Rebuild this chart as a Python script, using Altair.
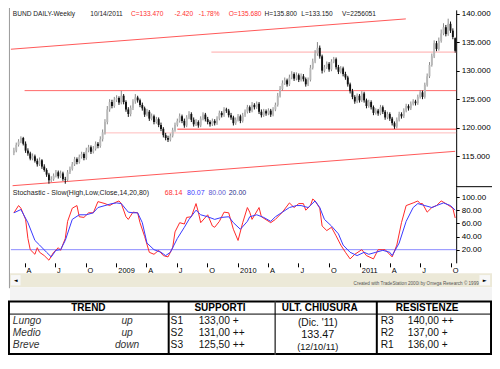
import altair as alt
import pandas as pd

# ---------------------------------------------------------------- values
FIRST_WEEK = "2008-02-29"          # first weekly bar (Friday); one bar per week

OPEN = [
    115.6, 116.0, 117.0, 117.6, 118.2, 117.2, 116.0, 115.5, 114.6, 115.0,
    114.2, 113.6, 114.3, 113.2, 112.6, 111.8, 110.8, 111.0, 111.6, 112.2,
    111.5, 112.0, 111.0, 110.9, 112.2, 112.8, 113.6, 114.5, 114.0, 114.9,
    115.4, 114.7, 116.0, 116.6, 115.8, 116.3, 117.2, 116.8, 118.0, 119.2,
    121.0, 123.2, 124.5, 123.8, 124.9, 125.2, 124.4, 125.6, 124.5, 123.2,
    122.4, 123.5, 124.6, 125.3, 124.8, 124.0, 123.4, 122.3, 122.8, 121.6,
    122.0, 121.0, 121.5, 120.5, 119.8, 118.7, 118.2, 117.9, 118.6, 119.6,
    120.5, 121.2, 122.0, 121.2, 120.4, 121.8, 122.4, 121.4, 120.6, 121.0,
    120.4, 121.6, 122.3, 121.5, 121.0, 120.6, 121.2, 120.8, 121.6, 122.6,
    122.2, 123.2, 123.0, 122.2, 121.8, 120.8, 121.4, 122.0, 121.2, 122.2,
    122.8, 123.6, 123.0, 124.0, 123.6, 124.2, 122.8, 122.2, 122.9, 122.5,
    123.0, 122.3, 123.2, 124.0, 125.6, 126.8, 127.8, 128.3, 127.6, 128.8,
    129.4, 128.6, 129.2, 128.4, 129.0, 128.5, 127.6, 128.4, 130.5, 131.6,
    133.0, 134.0, 132.5, 130.0, 130.6, 131.2, 130.2, 131.6, 132.0, 130.6,
    129.8, 130.4, 129.4, 128.8, 127.6, 126.4, 125.4, 124.6, 125.6, 124.8,
    126.0, 124.8, 123.8, 124.5, 123.6, 122.6, 123.0, 122.5, 123.6, 122.8,
    121.8, 122.4, 121.6, 120.8, 120.2, 121.4, 122.4, 122.0, 123.0, 123.8,
    123.4, 124.2, 124.6, 124.3, 125.4, 126.2, 125.4, 127.5, 129.0, 131.0,
    132.5, 134.8, 133.8, 135.2, 136.5, 137.6, 136.4, 138.2, 137.0, 135.68,
]
HIGH = [
    116.5, 117.4, 118.0, 118.5, 118.4, 117.6, 116.4, 115.8, 115.5, 115.3,
    114.6, 114.8, 114.5, 113.6, 112.9, 112.1, 111.5, 112.0, 112.6, 112.5,
    112.5, 112.3, 111.4, 112.6, 113.2, 114.0, 114.9, 114.8, 115.3, 115.8,
    115.7, 116.5, 117.0, 116.9, 116.8, 117.6, 117.5, 118.5, 119.7, 121.5,
    123.8, 125.0, 124.9, 125.4, 125.7, 125.5, 126.5, 125.9, 124.8, 123.6,
    123.9, 125.0, 125.9, 125.6, 125.1, 124.4, 123.7, 123.3, 123.1, 122.5,
    122.3, 121.9, 121.8, 120.9, 120.1, 119.1, 118.6, 119.0, 120.0, 120.9,
    121.6, 122.5, 122.3, 121.6, 122.2, 122.9, 122.7, 121.8, 121.5, 121.3,
    122.0, 122.7, 122.6, 121.9, 121.3, 121.6, 121.5, 122.0, 123.0, 122.9,
    123.6, 123.5, 123.3, 122.6, 122.1, 121.8, 122.4, 122.3, 122.6, 123.2,
    124.0, 123.9, 124.5, 124.3, 124.6, 124.5, 123.2, 123.3, 123.2, 123.4,
    123.3, 123.6, 124.4, 126.1, 127.3, 128.3, 128.8, 128.6, 129.3, 129.9,
    129.7, 129.7, 129.5, 129.5, 129.4, 128.8, 128.8, 131.0, 132.1, 133.6,
    135.0, 134.4, 132.8, 131.0, 131.6, 131.5, 132.0, 132.4, 132.3, 131.0,
    130.8, 130.7, 129.8, 129.1, 127.9, 126.8, 125.7, 126.0, 125.9, 126.4,
    126.3, 125.1, 124.9, 124.8, 123.9, 123.4, 123.3, 124.0, 123.9, 123.1,
    122.8, 122.7, 121.9, 121.1, 121.8, 122.8, 122.7, 123.4, 124.2, 124.1,
    124.6, 125.0, 124.9, 125.8, 126.6, 126.5, 127.9, 129.5, 131.5, 133.0,
    135.3, 135.2, 135.8, 137.2, 138.3, 138.0, 139.1, 138.6, 137.4, 135.8,
]
LOW = [
    115.2, 115.7, 116.7, 117.3, 116.9, 115.6, 115.1, 114.3, 114.3, 113.9,
    113.2, 113.3, 112.8, 112.3, 111.4, 110.2, 110.5, 110.7, 111.3, 111.1,
    111.2, 110.7, 110.2, 110.6, 111.9, 112.5, 113.3, 113.6, 113.7, 114.6,
    114.3, 114.4, 115.7, 115.4, 115.5, 116.0, 116.4, 116.5, 117.6, 118.8,
    120.6, 122.8, 123.4, 123.5, 124.5, 124.0, 124.1, 124.1, 122.8, 121.9,
    122.0, 123.1, 124.2, 124.4, 123.6, 123.0, 121.9, 122.0, 121.2, 121.3,
    120.6, 120.7, 120.1, 119.4, 118.3, 117.8, 117.5, 117.6, 118.3, 119.3,
    120.2, 120.9, 120.8, 120.0, 120.1, 121.5, 121.0, 120.2, 120.3, 120.0,
    120.1, 121.3, 121.1, 120.6, 120.2, 120.3, 120.4, 120.5, 121.3, 121.8,
    121.9, 122.6, 121.8, 121.4, 120.4, 120.5, 121.1, 120.8, 120.9, 121.9,
    122.5, 122.6, 122.7, 123.2, 123.3, 122.4, 121.8, 121.9, 122.1, 122.2,
    121.9, 122.0, 122.9, 123.7, 125.3, 126.5, 127.5, 127.2, 127.3, 128.5,
    128.2, 128.3, 128.0, 128.1, 128.1, 127.2, 127.3, 128.1, 130.2, 131.3,
    132.6, 132.1, 129.5, 129.7, 130.3, 129.8, 129.9, 131.3, 130.2, 129.4,
    129.5, 129.0, 128.4, 127.2, 126.0, 125.0, 124.2, 124.3, 124.4, 124.5,
    124.4, 123.4, 123.5, 123.2, 122.2, 122.3, 122.1, 122.2, 122.4, 121.4,
    121.5, 121.2, 120.4, 119.8, 119.9, 121.1, 121.6, 121.7, 122.7, 123.0,
    123.1, 123.9, 123.9, 124.0, 125.1, 125.0, 125.1, 127.2, 128.7, 130.7,
    132.2, 133.4, 133.5, 134.9, 136.2, 136.0, 136.1, 136.6, 135.5, 133.15,
]
CLOSE = [
    116.0, 117.0, 117.6, 118.2, 117.2, 116.0, 115.5, 114.6, 115.0, 114.2,
    113.6, 114.3, 113.2, 112.6, 111.8, 110.8, 111.0, 111.6, 112.2, 111.5,
    112.0, 111.0, 110.9, 112.2, 112.8, 113.6, 114.5, 114.0, 114.9, 115.4,
    114.7, 116.0, 116.6, 115.8, 116.3, 117.2, 116.8, 118.0, 119.2, 121.0,
    123.2, 124.5, 123.8, 124.9, 125.2, 124.4, 125.6, 124.5, 123.2, 122.4,
    123.5, 124.6, 125.3, 124.8, 124.0, 123.4, 122.3, 122.8, 121.6, 122.0,
    121.0, 121.5, 120.5, 119.8, 118.7, 118.2, 117.9, 118.6, 119.6, 120.5,
    121.2, 122.0, 121.2, 120.4, 121.8, 122.4, 121.4, 120.6, 121.0, 120.4,
    121.6, 122.3, 121.5, 121.0, 120.6, 121.2, 120.8, 121.6, 122.6, 122.2,
    123.2, 123.0, 122.2, 121.8, 120.8, 121.4, 122.0, 121.2, 122.2, 122.8,
    123.6, 123.0, 124.0, 123.6, 124.2, 122.8, 122.2, 122.9, 122.5, 123.0,
    122.3, 123.2, 124.0, 125.6, 126.8, 127.8, 128.3, 127.6, 128.8, 129.4,
    128.6, 129.2, 128.4, 129.0, 128.5, 127.6, 128.4, 130.5, 131.6, 133.0,
    134.0, 132.5, 130.0, 130.6, 131.2, 130.2, 131.6, 132.0, 130.6, 129.8,
    130.4, 129.4, 128.8, 127.6, 126.4, 125.4, 124.6, 125.6, 124.8, 126.0,
    124.8, 123.8, 124.5, 123.6, 122.6, 123.0, 122.5, 123.6, 122.8, 121.8,
    122.4, 121.6, 120.8, 120.2, 121.4, 122.4, 122.0, 123.0, 123.8, 123.4,
    124.2, 124.6, 124.3, 125.4, 126.2, 125.4, 127.5, 129.0, 131.0, 132.5,
    134.8, 133.8, 135.2, 136.5, 137.6, 136.4, 138.2, 137.0, 135.9, 133.47,
]

# stochastic %K (red) and %D (blue): week index of the bar and value
K_WEEK = [0, 2, 3, 5, 6, 7, 9, 10, 11, 13, 15, 17, 19, 20, 22, 23, 25, 27, 28, 30,
          32, 34, 36, 39, 41, 43, 45, 46, 48, 49, 51, 53, 54, 56, 58, 60, 62, 64, 66, 68,
          69, 71, 73, 74, 76, 78, 79, 80, 83, 85, 86, 88, 90, 92, 94, 96, 98, 100, 101, 102,
          105, 106, 110, 112, 115, 118, 120, 122, 124, 125, 127, 128, 129, 131, 132, 134, 136, 138, 140, 142,
          144, 146, 149, 151, 154, 156, 158, 159, 162, 164, 166, 168, 171, 173, 174, 175, 177, 179, 181, 183,
          185, 188, 189]
K_VAL = [76, 87, 83, 66, 37, 20, 13, 23, 16, 11, 4, 16, 23, 19, 37, 63, 83, 87, 70, 69,
         76, 76, 93, 90, 87, 91, 94, 90, 70, 66, 77, 76, 61, 40, 16, 13, 19, 11, 9, 23,
         47, 61, 59, 69, 70, 90, 77, 61, 73, 56, 54, 63, 77, 76, 51, 34, 61, 84, 77, 66,
         84, 70, 61, 66, 77, 91, 84, 90, 90, 80, 87, 97, 94, 83, 56, 49, 54, 41, 27, 16,
         6, 13, 20, 11, 6, 20, 20, 20, 9, 27, 61, 87, 91, 94, 90, 90, 77, 84, 87, 94,
         90, 83, 68.14]
D_WEEK = [0, 3, 6, 9, 11, 14, 16, 18, 20, 22, 25, 28, 31, 34, 36, 39, 42, 44, 46, 49,
          51, 53, 55, 57, 60, 63, 65, 67, 70, 73, 75, 78, 80, 83, 86, 89, 92, 94, 97, 100,
          101, 104, 107, 110, 112, 115, 118, 121, 123, 126, 129, 131, 133, 136, 139, 141, 144, 147, 150, 152,
          155, 158, 161, 162, 165, 168, 171, 173, 176, 179, 181, 184, 187, 189]
D_VAL = [76, 81, 61, 34, 27, 16, 9, 19, 20, 34, 66, 73, 73, 76, 84, 87, 90, 91, 90, 77,
         76, 76, 61, 30, 20, 16, 11, 16, 37, 54, 66, 80, 73, 70, 66, 69, 70, 61, 51, 63,
         70, 73, 69, 63, 70, 77, 84, 87, 87, 84, 94, 84, 66, 56, 44, 27, 16, 11, 16, 13,
         16, 19, 16, 11, 30, 63, 84, 90, 87, 84, 87, 91, 87, 80.07]
STOCH_LEVEL = 20

# support / resistance levels drawn on the price panel
LEVEL_PRICE = [126.5, 133.25, 119.75, 119.1]
LEVEL_FROM = ["2008-04-01", "2009-10-13", "2009-07-03", "2008-11-27"]
LEVEL_TO = "2011-10-17"

# trend channel lines
TREND_FROM = ["2008-02-20", "2008-02-25"]
TREND_FROM_PRICE = [133.75, 109.85]
TREND_TO = ["2011-05-19", "2011-10-14"]
TREND_TO_PRICE = [139.06, 115.87]

PRICE_TICKS = [115, 120, 125, 130, 135, 140]
STOCH_TICKS = [20, 40, 60, 80, 100]
QUARTER_TICKS = [(2008, 4), (2008, 7), (2008, 10), (2009, 1), (2009, 4), (2009, 7), (2009, 10),
                 (2010, 1), (2010, 4), (2010, 7), (2010, 10), (2011, 1), (2011, 4), (2011, 7), (2011, 10)]
X_DOMAIN = [(2008, 2, 20), (2011, 10, 17)]
P_DOMAIN = [109.68, 140.64]
S_DOMAIN = [0, 115.7]

HEADER_TEXT = ["BUND DAILY-Weekly", "10/14/2011", "C=133.470", "-2.420", "-1.78%",
               "O=135.680", "H=135.800", "L=133.150", "V=2256051"]
STOCH_TEXT = ["Stochastic - Slow(High,Low,Close,14,20,80)", "68.14", "80.07", "80.00", "20.00"]
CREDIT = "Created with TradeStation 2000i by Omega Research \u00a9 1999"

TABLE_HEADERS = ["TREND", "SUPPORTI", "ULT. CHIUSURA", "RESISTENZE"]
TREND_NAMES = ["Lungo", "Medio", "Breve"]
TREND_DIRS = ["up", "up", "down"]
SUPPORT_NAMES = ["S1", "S2", "S3"]
SUPPORT_VALUES = ["133,00 +", "131,00 ++", "125,50 ++"]
LAST_CLOSE = ["(Dic. '11)", "133.47", "(12/10/11)"]
RESIST_NAMES = ["R3", "R2", "R1"]
RESIST_VALUES = ["140,00 ++", "137,00 +", "136,00 +"]

# ---------------------------------------------------------------- layout & style
W, H = 484, 347                      # whole drawing
SX, SY = W / 500.0, H / 369.0        # reference pixel -> drawing pixel


def px(v):
    return v * SX


def py(v):
    return v * SY


SANS = "Liberation Sans, Arial, sans-serif"
RED_TXT = "#ff3030"
BLACK_TXT = "#1a1a1a"

HEADER_X = [5, 85, 127, 172, 197, 228, 265, 303, 345]
HEADER_COL = [BLACK_TXT, BLACK_TXT, RED_TXT, RED_TXT, RED_TXT, RED_TXT, BLACK_TXT, BLACK_TXT, BLACK_TXT]
HEADER_Y = 6.5
STOCH_X = [5, 162, 185, 207, 228]
STOCH_COL = [BLACK_TXT, RED_TXT, "#3c3cff", "#5a5ad0", "#2c2c8c"]
STOCH_Y = 197

ROW_Y = [332.5, 345.5, 358]
HEAD_Y = 319


def dt(y, m, d=1):
    return alt.DateTime(year=y, month=m, date=d, utc=True)


T_SCALE = alt.Scale(type="utc", domain=[dt(*X_DOMAIN[0]), dt(*X_DOMAIN[1])],
                    range=[px(3), px(463)], nice=False)
P_SCALE = alt.Scale(domain=P_DOMAIN, range=[py(190), py(2)], nice=False, zero=False)
S_SCALE = alt.Scale(domain=S_DOMAIN, range=[py(271), py(190)], nice=False, zero=False)
LX = alt.Scale(domain=[0, 500], range=[0, W], nice=False, zero=False)
LY = alt.Scale(domain=[0, 369], range=[0, H], nice=False, zero=False)

x_axis = alt.Axis(
    orient="bottom", offset=py(271) - H, values=[dt(y, m) for y, m in QUARTER_TICKS],
    labelExpr="utcmonth(datum.value) == 0 ? utcFormat(datum.value, '%Y') : "
              "substring(utcFormat(datum.value, '%b'), 0, 1)",
    tickSize=4, tickColor="#000", domain=False, grid=False, labelAlign="left",
    labelBaseline="top", labelOffset=1.5, labelPadding=0, labelFlush=False,
    labelFont=SANS, labelFontSize=7.4, labelColor="#000", labelOverlap=False, title=None)
p_axis = alt.Axis(
    orient="right", offset=px(463) - W, values=PRICE_TICKS, format=".3f", tickSize=3,
    domainColor="#000", tickColor="#000", grid=False, labelFont=SANS, labelFontSize=8,
    labelColor="#000", labelPadding=2, labelOverlap=False, title=None)
s_axis = alt.Axis(
    orient="right", offset=px(463) - W, values=STOCH_TICKS, format=".2f", tickSize=3,
    domainColor="#000", tickColor="#000", grid=False, labelFont=SANS, labelFontSize=8,
    labelColor="#000", labelPadding=2, labelOverlap=False, title=None)

# ---------------------------------------------------------------- tables for the marks
dates = pd.date_range(FIRST_WEEK, periods=len(CLOSE), freq="7D").strftime("%Y-%m-%d")
candles = pd.DataFrame({"date": dates, "open": OPEN, "high": HIGH, "low": LOW, "close": CLOSE})
candles["dir"] = ["up" if c >= o else "down" for o, c in zip(OPEN, CLOSE)]

kdf = pd.DataFrame({"date": [dates[i] for i in K_WEEK], "v": K_VAL})
ddf = pd.DataFrame({"date": [dates[i] for i in D_WEEK], "v": D_VAL})
lvl20 = pd.DataFrame({"a": ["2008-02-20"], "b": [LEVEL_TO], "v": [STOCH_LEVEL]})

levels = pd.DataFrame({"a": LEVEL_FROM, "b": [LEVEL_TO] * len(LEVEL_PRICE), "p": LEVEL_PRICE,
                       "c": ["#ff6a6a", "#ffaaaa", "#ff3a3a", "#ffbcbc"]})
trends = pd.DataFrame({
    "line": [0, 0, 1, 1],
    "date": [TREND_FROM[0], TREND_TO[0], TREND_FROM[1], TREND_TO[1]],
    "p": [TREND_FROM_PRICE[0], TREND_TO_PRICE[0], TREND_FROM_PRICE[1], TREND_TO_PRICE[1]],
})


def TX(field, axis=None):
    return alt.X(field, type="temporal", scale=T_SCALE, axis=axis)


def LXe(field):
    return alt.X(field, type="quantitative", scale=LX, axis=None)


def LYe(field):
    return alt.Y(field, type="quantitative", scale=LY, axis=None)


layers = []

# scroll bar and band under the chart
rects = pd.DataFrame({
    "x": [2, 2, 3, 487], "x2": [500, 500, 13, 498],
    "y": [282, 297, 284, 284], "y2": [297, 311, 295, 295],
    "c": ["#ece9d8", "#f3f3f3", "#f7f7f7", "#f7f7f7"],
})
layers.append(alt.Chart(rects).mark_rect().encode(
    x=LXe("x"), x2="x2", y=LYe("y"), y2="y2", color=alt.Color("c:N", scale=None)))

# price panel lines
layers.append(alt.Chart(trends).mark_line(color="#ff5a5a", strokeWidth=1).encode(
    x=TX("date"), y=alt.Y("p:Q", scale=P_SCALE, axis=None), detail="line:N"))
layers.append(alt.Chart(levels).mark_rule(strokeWidth=1).encode(
    x=TX("a"), x2="b", y=alt.Y("p:Q", scale=P_SCALE, axis=None), color=alt.Color("c:N", scale=None)))

# candles
layers.append(alt.Chart(candles).mark_rule(strokeWidth=1).encode(
    x=TX("date", x_axis),
    y=alt.Y("low:Q", scale=P_SCALE, axis=p_axis), y2="high:Q",
    color=alt.Color("dir:N", scale=alt.Scale(domain=["up", "down"], range=["#8a8a8a", "#111111"]),
                    legend=None)))
layers.append(alt.Chart(candles).mark_rule(strokeWidth=1.9).encode(
    x=TX("date"),
    y=alt.Y("open:Q", scale=P_SCALE, axis=None), y2="close:Q",
    color=alt.Color("dir:N", scale=alt.Scale(domain=["up", "down"], range=["#b8b8b8", "#111111"]),
                    legend=None)))

# stochastic panel
layers.append(alt.Chart(lvl20).mark_rule(color="#8a8aff", strokeWidth=1).encode(
    x=TX("a"), x2="b", y=alt.Y("v:Q", scale=S_SCALE, axis=None)))
layers.append(alt.Chart(kdf).mark_line(color="#ff2a2a", strokeWidth=1).encode(
    x=TX("date"), y=alt.Y("v:Q", scale=S_SCALE, axis=s_axis)))
layers.append(alt.Chart(ddf).mark_line(color="#3a3aff", strokeWidth=1).encode(
    x=TX("date"), y=alt.Y("v:Q", scale=S_SCALE, axis=None)))

# layout rules (frame, separators, table grid)
rules = pd.DataFrame({
    "x":  [1.5, 463, 0, 0, 1, 499, 166, 381, 276, 0],
    "x2": [1.5, 500, 500, 500, 1, 499, 166, 381, 276, 500],
    "y":  [0, 190, 312, 368, 312, 312, 312, 312, 312, 325.5],
    "y2": [298, 190, 312, 368, 369, 369, 369, 369, 369, 325.5],
    "c":  ["#9a9a9a", "#000", "#000", "#000", "#000", "#000", "#000", "#000", "#444", "#000"],
    "w":  [1, 1, 2, 2, 2, 2, 2, 2, 1.5, 1],
})
layers.append(alt.Chart(rules).mark_rule().encode(
    x=LXe("x"), x2="x2", y=LYe("y"), y2="y2",
    color=alt.Color("c:N", scale=None), strokeWidth=alt.StrokeWidth("w:Q", scale=None)))

# texts
header = pd.DataFrame({"t": HEADER_TEXT, "x": HEADER_X, "y": [HEADER_Y] * len(HEADER_TEXT), "c": HEADER_COL})
stoch_t = pd.DataFrame({"t": STOCH_TEXT, "x": STOCH_X, "y": [STOCH_Y] * len(STOCH_TEXT), "c": STOCH_COL})
for df, fs in ((header, 6.6), (stoch_t, 7.0)):
    layers.append(alt.Chart(df).mark_text(align="left", baseline="middle", font=SANS, fontSize=fs).encode(
        x=LXe("x"), y=LYe("y"), text="t:N", color=alt.Color("c:N", scale=None)))

small = pd.DataFrame({"t": [CREDIT], "x": [357], "y": [294]})
layers.append(alt.Chart(small).mark_text(align="left", baseline="middle", font=SANS, fontSize=4.6,
                                         color="#555").encode(x=LXe("x"), y=LYe("y"), text="t:N"))
arrows = pd.DataFrame({"t": ["\u25c4", "\u25ba"], "x": [8, 492.5], "y": [289.5, 289.5]})
layers.append(alt.Chart(arrows).mark_text(align="center", baseline="middle", font="DejaVu Sans",
                                          fontSize=5, color="#000").encode(x=LXe("x"), y=LYe("y"), text="t:N"))

heads = pd.DataFrame({"t": TABLE_HEADERS, "x": [83, 219, 322, 433], "y": [HEAD_Y] * 4})
layers.append(alt.Chart(heads).mark_text(align="center", baseline="middle", font=SANS, fontSize=10,
                                         fontWeight="bold", color="#000").encode(
    x=LXe("x"), y=LYe("y"), text="t:N"))

trend_l = pd.DataFrame({"t": TREND_NAMES, "x": [5] * 3, "y": ROW_Y})
layers.append(alt.Chart(trend_l).mark_text(align="left", baseline="middle", font=SANS, fontSize=10.2,
                                           fontStyle="italic", color="#333").encode(
    x=LXe("x"), y=LYe("y"), text="t:N"))
trend_r = pd.DataFrame({"t": TREND_DIRS, "x": [123] * 3, "y": ROW_Y})
layers.append(alt.Chart(trend_r).mark_text(align="center", baseline="middle", font=SANS, fontSize=10.2,
                                           fontStyle="italic", color="#333").encode(
    x=LXe("x"), y=LYe("y"), text="t:N"))

plain = pd.DataFrame({
    "t": SUPPORT_NAMES + SUPPORT_VALUES + RESIST_NAMES + RESIST_VALUES,
    "x": [168] * 3 + [197] * 3 + [385] * 3 + [413] * 3,
    "y": ROW_Y * 4,
})
layers.append(alt.Chart(plain).mark_text(align="left", baseline="middle", font=SANS, fontSize=10.2,
                                         color="#111").encode(x=LXe("x"), y=LYe("y"), text="t:N"))

close_t = pd.DataFrame({"t": LAST_CLOSE, "x": [320] * 3, "y": [335, 347.5, 361], "s": [10.2, 10.8, 9.2]})
layers.append(alt.Chart(close_t).mark_text(align="center", baseline="middle", font=SANS,
                                           color="#111").encode(
    x=LXe("x"), y=LYe("y"), text="t:N", size=alt.Size("s:Q", scale=None)))

chart = alt.layer(*layers).resolve_scale(
    x="independent", y="independent", color="independent", size="independent", strokeWidth="independent"
).properties(
    width=W, height=H, autosize=alt.AutoSizeParams(type="none"), padding=0, background="white"
).configure_view(stroke=None)

chart.save("out.html", embed_options={"renderer": "svg", "actions": False})
